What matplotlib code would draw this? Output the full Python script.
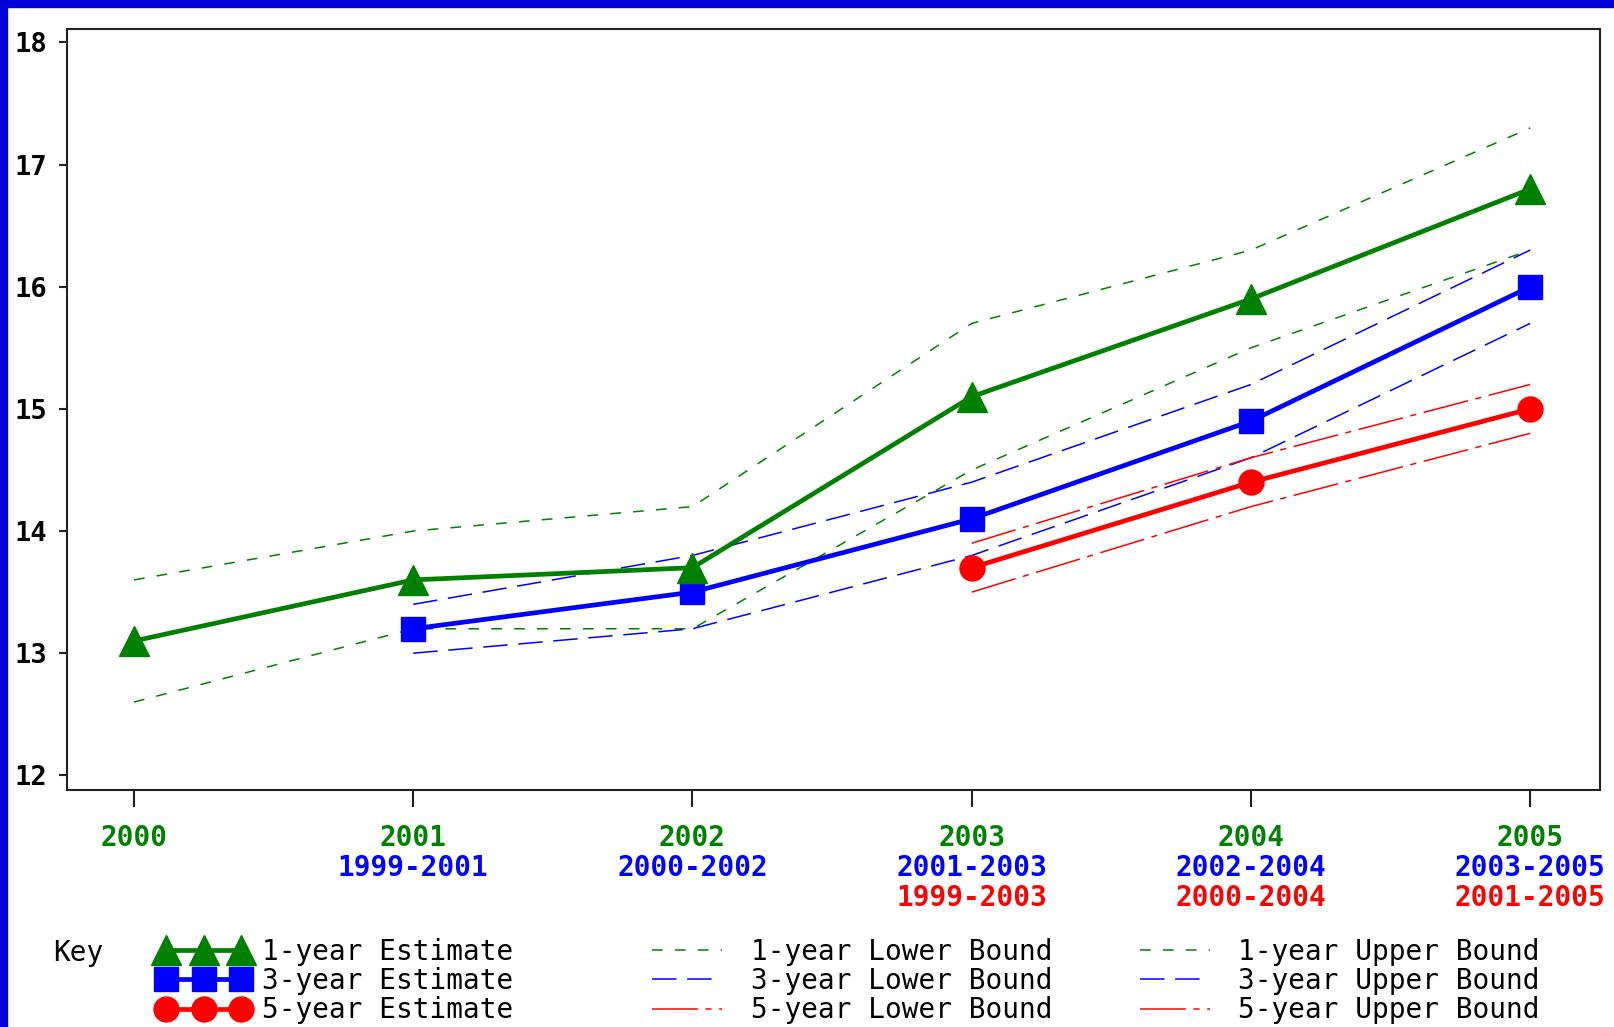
import matplotlib
matplotlib.use("Agg")
import matplotlib.pyplot as plt
from matplotlib.lines import Line2D
from matplotlib.patches import Rectangle

# chart data
years = [2000, 2001, 2002, 2003, 2004, 2005]
est_1yr = [13.1, 13.6, 13.7, 15.1, 15.9, 16.8]
low_1yr = [12.6, 13.2, 13.2, 14.5, 15.5, 16.3]
up_1yr = [13.6, 14.0, 14.2, 15.7, 16.3, 17.3]

years_3yr = [2001, 2002, 2003, 2004, 2005]
est_3yr = [13.2, 13.5, 14.1, 14.9, 16.0]
low_3yr = [13.0, 13.2, 13.8, 14.6, 15.7]
up_3yr = [13.4, 13.8, 14.4, 15.2, 16.3]

years_5yr = [2003, 2004, 2005]
est_5yr = [13.7, 14.4, 15.0]
low_5yr = [13.5, 14.2, 14.8]
up_5yr = [13.9, 14.6, 15.2]

labels_1yr = ["2000", "2001", "2002", "2003", "2004", "2005"]
labels_3yr = ["1999-2001", "2000-2002", "2001-2003", "2002-2004", "2003-2005"]
labels_5yr = ["1999-2003", "2000-2004", "2001-2005"]
y_ticks = [12, 13, 14, 15, 16, 17, 18]

GREEN = "#008000"
BLUE = "#0000ff"
RED = "#ff0000"
FONT = "DejaVu Sans Mono"

dash_1yr = (0, (7, 8))
dash_3yr = (0, (16, 7))
dash_5yr = (0, (30, 5, 4, 5))

W, H = 1614, 1027
fig = plt.figure(figsize=(W / 100, H / 100), dpi=100)
fig.patch.set_facecolor("white")

# blue frame strips on top and left
fig.patches.append(Rectangle((0, 1 - 7 / H), 1, 7 / H, transform=fig.transFigure,
                             color="#0000d8", zorder=0))
fig.patches.append(Rectangle((0, 0), 7 / W, 1, transform=fig.transFigure,
                             color="#0000d8", zorder=0))

ax = fig.add_axes([67 / W, 1 - 790 / H, (1600 - 67) / W, (790 - 29) / H])
ax.set_xlim(1999.76, 2005.25)
ax.set_ylim(11.88, 18.11)

# bounds
ax.plot(years, low_1yr, color=GREEN, lw=1.1, linestyle=dash_1yr)
ax.plot(years, up_1yr, color=GREEN, lw=1.1, linestyle=dash_1yr)
ax.plot(years_3yr, low_3yr, color=BLUE, lw=1.1, linestyle=dash_3yr)
ax.plot(years_3yr, up_3yr, color=BLUE, lw=1.1, linestyle=dash_3yr)
ax.plot(years_5yr, low_5yr, color=RED, lw=1.1, linestyle=dash_5yr)
ax.plot(years_5yr, up_5yr, color=RED, lw=1.1, linestyle=dash_5yr)

# estimates
ax.plot(years_5yr, est_5yr, color=RED, lw=3.4, marker="o", ms=18)
ax.plot(years_3yr, est_3yr, color=BLUE, lw=3.4, marker="s", ms=17)
ax.plot(years, est_1yr, color=GREEN, lw=3.4, marker="^", ms=22)

for sp in ax.spines.values():
    sp.set_linewidth(1.5)
    sp.set_color("#222222")

ax.set_yticks(y_ticks)
ax.set_yticklabels([str(v) for v in y_ticks], fontfamily=FONT,
                   fontweight="bold", fontsize=19.5)
ax.tick_params(axis="y", length=6, width=1.5, pad=8, color="#222222")
ax.set_xticks(years)
ax.set_xticklabels([])
ax.tick_params(axis="x", length=12, width=1.5, color="#222222")

# stacked coloured x labels
rows = [(years, labels_1yr, GREEN, 34.5),
        (years_3yr, labels_3yr, BLUE, 56.5),
        (years_5yr, labels_5yr, RED, 78)]
for xs, labs, col, off in rows:
    for x, lab in zip(xs, labs):
        ax.annotate(lab, xy=(x, 0), xycoords=("data", "axes fraction"),
                    xytext=(0, -off), textcoords="offset points",
                    ha="center", va="center", color=col,
                    fontfamily=FONT, fontweight="bold", fontsize=20)

# key
fig.text(53 / W, 1 - 953 / H, "Key", fontfamily=FONT, fontsize=20,
         ha="left", va="center")

est_handles = [
    Line2D([], [], color=GREEN, lw=3.4, marker="^", ms=22),
    Line2D([], [], color=BLUE, lw=3.4, marker="s", ms=17),
    Line2D([], [], color=RED, lw=3.4, marker="o", ms=18),
]
est_labels = ["1-year Estimate", "3-year Estimate", "5-year Estimate"]
low_handles = [
    Line2D([], [], color=GREEN, lw=1.1, linestyle=dash_1yr),
    Line2D([], [], color=BLUE, lw=1.1, linestyle=dash_3yr),
    Line2D([], [], color=RED, lw=1.1, linestyle=dash_5yr),
]
low_labels = ["1-year Lower Bound", "3-year Lower Bound", "5-year Lower Bound"]
up_handles = [
    Line2D([], [], color=GREEN, lw=1.1, linestyle=dash_1yr),
    Line2D([], [], color=BLUE, lw=1.1, linestyle=dash_3yr),
    Line2D([], [], color=RED, lw=1.1, linestyle=dash_5yr),
]
up_labels = ["1-year Upper Bound", "3-year Upper Bound", "5-year Upper Bound"]

legend_font = {"family": FONT, "size": 20}
for handles, labs, x0, hl, pad in [
    (est_handles, est_labels, 158, 3.3, 0.45),
    (low_handles, low_labels, 644, 3.1, 0.75),
    (up_handles, up_labels, 1132, 3.1, 0.7),
]:
    leg = fig.legend(handles, labs, loc="center left",
                     bbox_to_anchor=(x0 / W, 1 - 981 / H),
                     frameon=False, prop=legend_font, numpoints=3,
                     handlelength=hl, handletextpad=pad,
                     labelspacing=0.05, borderpad=0, borderaxespad=0)

fig.savefig("out.png", dpi=100)
